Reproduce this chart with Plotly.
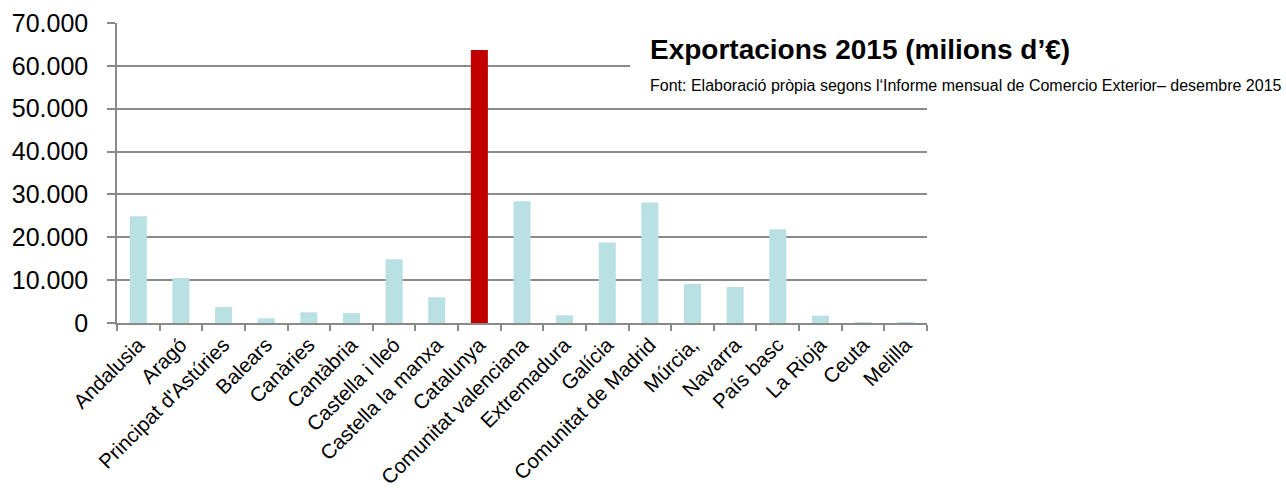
import plotly.graph_objects as go

# Exportacions 2015 per comunitat autònoma (milions d'euros)
regions = [
    "Andalusia", "Aragó", "Principat d'Astúries", "Balears", "Canàries",
    "Cantàbria", "Castella i lleó", "Castella la manxa", "Catalunya",
    "Comunitat valenciana", "Extremadura", "Galícia", "Comunitat de Madrid",
    "Múrcia,", "Navarra", "País basc", "La Rioja", "Ceuta", "Melilla",
]
exports_2015 = [
    24900, 10500, 3700, 1100, 2500,
    2300, 14900, 6000, 63700,
    28400, 1800, 18800, 28100,
    9100, 8400, 21900, 1700, 10, 20,
]
highlight = "Catalunya"

y_tickvals = [0, 10000, 20000, 30000, 40000, 50000, 60000, 70000]
y_ticktext = ["0", "10.000", "20.000", "30.000", "40.000", "50.000", "60.000", "70.000"]

title_text = "<b>Exportacions 2015 (milions d’€)</b>"
source_text = "Font: Elaboració pròpia segons l‘Informe mensual de Comercio Exterior– desembre 2015"

bar_colors = ["#C00000" if r == highlight else "#B9E0E3" for r in regions]

fig = go.Figure(
    go.Bar(
        x=regions,
        y=exports_2015,
        marker=dict(color=bar_colors, line=dict(width=0)),
        hoverinfo="x+y",
    )
)

# plot area in pixels
L, R, T, B = 117, 927, 23, 323
W, H = 1286, 490


def px_x(x):
    return (x - L) / (R - L)


def px_y(y):
    return (B - y) / (B - T)


grid = "#8A8A8A"
fig.update_layout(
    width=W,
    height=H,
    margin=dict(l=L, r=W - R, t=T, b=H - B, autoexpand=False),
    paper_bgcolor="white",
    plot_bgcolor="white",
    showlegend=False,
    bargap=0.6,
    font=dict(family="Liberation Sans, Arial, sans-serif", color="#000000"),
    xaxis=dict(
        type="category",
        tickangle=-45,
        tickson="boundaries",
        ticks="outside",
        ticklen=6,
        tickcolor=grid,
        tickwidth=1.5,
        showline=True,
        linecolor=grid,
        linewidth=1.5,
        showgrid=False,
        automargin=False,
        tickfont=dict(size=20.5, color="#000000"),
        fixedrange=True,
    ),
    yaxis=dict(
        range=[0, 70000],
        tickvals=y_tickvals,
        ticktext=y_ticktext,
        ticks="outside",
        ticklen=8,
        tickcolor=grid,
        tickwidth=1.5,
        ticklabelstandoff=14,
        showline=True,
        linecolor=grid,
        linewidth=1.5,
        showgrid=True,
        gridcolor=grid,
        gridwidth=1.5,
        zeroline=False,
        automargin=False,
        tickfont=dict(size=25, color="#000000"),
        fixedrange=True,
    ),
    shapes=[
        # white panel behind the title block, covering the upper gridlines
        dict(
            type="rect", xref="paper", yref="paper",
            x0=px_x(630), x1=px_x(W), y0=px_y(95), y1=px_y(0),
            fillcolor="white", line=dict(width=0), layer="above",
        )
    ],
    annotations=[
        dict(
            text=title_text, xref="paper", yref="paper",
            x=px_x(648), y=px_y(50),
            xanchor="left", yanchor="middle", showarrow=False,
            font=dict(size=28, color="#000000"),
        ),
        dict(
            text=source_text, xref="paper", yref="paper",
            x=px_x(648), y=px_y(85),
            xanchor="left", yanchor="middle", showarrow=False,
            font=dict(size=16, color="#000000"),
        ),
    ],
)

fig.write_html("out.html")
